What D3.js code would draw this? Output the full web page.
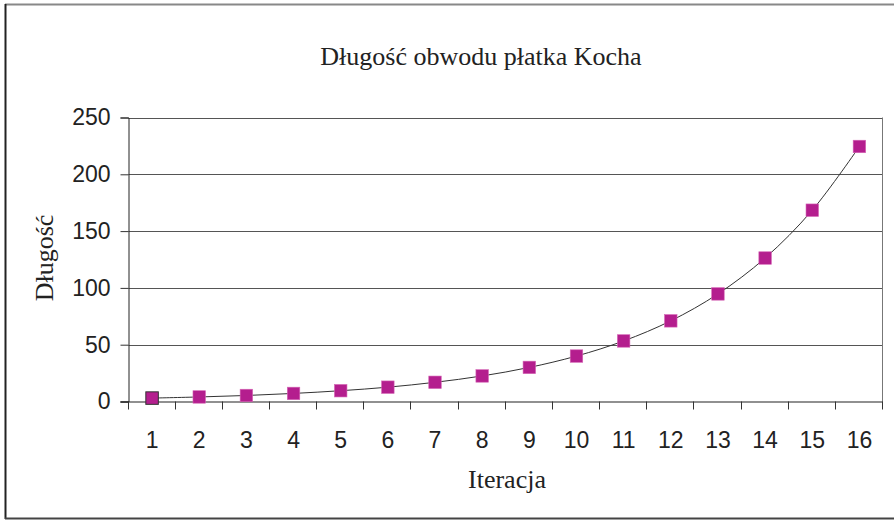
<!DOCTYPE html>
<html><head><meta charset="utf-8">
<script src="https://cdn.jsdelivr.net/npm/d3@7"></script>
<style>body{margin:0;background:#fff}svg{display:block}</style>
</head><body>
<svg id="c" width="894" height="520"></svg>
<script>
const iterations = ["1","2","3","4","5","6","7","8","9","10","11","12","13","14","15","16"];
const lengths = [3, 4, 5.3, 7.1, 9.5, 12.6, 16.9, 22.5, 30, 40, 53.3, 71, 94.7, 126.3, 168.4, 224.5];
const yTicks = [0, 50, 100, 150, 200, 250];
const titleText = "Długość obwodu płatka Kocha";
const xTitle = "Iteracja";
const yTitle = "Długość";

const svg = d3.select("#c");
const W = 894, H = 520;
const m = {left: 128.5, right: 883, top: 117.5, bottom: 401.5};

// outer frame
svg.append("line").attr("x1",5).attr("x2",W).attr("y1",4.5).attr("y2",4.5).attr("stroke","#888").attr("stroke-width",2);
svg.append("line").attr("x1",5.5).attr("x2",5.5).attr("y1",4).attr("y2",519).attr("stroke","#222").attr("stroke-width",2);
svg.append("line").attr("x1",5).attr("x2",W).attr("y1",518.5).attr("y2",518.5).attr("stroke","#444").attr("stroke-width",2);

const x = d3.scaleBand().domain(iterations).range([m.left, m.right]).paddingInner(0).paddingOuter(0);
const y = d3.scaleLinear().domain([0, 250]).range([m.bottom, m.top]);

// gridlines
svg.append("g").selectAll("line").data(yTicks.filter(d=>d>0)).join("line")
  .attr("x1", m.left).attr("x2", m.right)
  .attr("y1", d=>Math.round(y(d))+0.5).attr("y2", d=>Math.round(y(d))+0.5)
  .attr("stroke","#555").attr("stroke-width",1);
// right border of plot
svg.append("line").attr("x1",m.right-0.5).attr("x2",m.right-0.5).attr("y1",m.top).attr("y2",m.bottom)
  .attr("stroke","#777").attr("stroke-width",1);

// y axis
const yAxis = d3.axisLeft(y).tickValues(yTicks).tickSize(8).tickPadding(10);
const gy = svg.append("g").attr("transform",`translate(${m.left},0)`).call(yAxis);
gy.select(".domain").attr("stroke","#222");
gy.selectAll(".tick line").attr("stroke","#333");
gy.selectAll("text").attr("font-family","Liberation Sans, Arial, sans-serif").attr("font-size",23).attr("fill","#222");

// x axis with ticks at category boundaries
const gx = svg.append("g").attr("transform",`translate(0,${m.bottom})`);
gx.append("line").attr("x1",m.left-8).attr("x2",m.right).attr("y1",0.5).attr("y2",0.5).attr("stroke","#222").attr("stroke-width",1.2);
const bounds = iterations.map(d=>x(d)).concat([m.right]);
gx.selectAll("line.tk").data(bounds).join("line").attr("class","tk")
  .attr("x1",d=>Math.round(d)-0.5).attr("x2",d=>Math.round(d)-0.5).attr("y1",0).attr("y2",8)
  .attr("stroke","#333");
gx.selectAll("text").data(iterations).join("text")
  .attr("x", d=>x(d)+x.bandwidth()/2).attr("y", 46)
  .attr("text-anchor","middle")
  .attr("font-family","Liberation Sans, Arial, sans-serif").attr("font-size",23).attr("fill","#222")
  .text(d=>d);

// line
const pts = iterations.map((d,i)=>[x(d)+x.bandwidth()/2, y(lengths[i])]);
svg.append("path").attr("d", d3.line().curve(d3.curveCatmullRom.alpha(0.5))(pts))
  .attr("fill","none").attr("stroke","#333").attr("stroke-width",1);

// markers
const s = 12.5;
svg.append("g").selectAll("rect").data(pts).join("rect")
  .attr("x", d=>d[0]-s/2).attr("y", d=>d[1]-s/2).attr("width", s).attr("height", s)
  .attr("fill","#B41E8E")
  .attr("stroke",(d,i)=>i===0?"#333":"#D565B5").attr("stroke-width",(d,i)=>i===0?1:0.6);

// titles
svg.append("text").attr("x",481).attr("y",65).attr("text-anchor","middle")
  .attr("font-family","Liberation Serif, Times New Roman, serif").attr("font-size",26).attr("fill","#222")
  .text(titleText);
svg.append("text").attr("x",507).attr("y",488).attr("text-anchor","middle")
  .attr("font-family","Liberation Serif, Times New Roman, serif").attr("font-size",26).attr("fill","#222")
  .text(xTitle);
svg.append("text").attr("transform","translate(53,258) rotate(-90)").attr("text-anchor","middle")
  .attr("font-family","Liberation Serif, Times New Roman, serif").attr("font-size",26).attr("fill","#222")
  .text(yTitle);
</script>
</body></html>
